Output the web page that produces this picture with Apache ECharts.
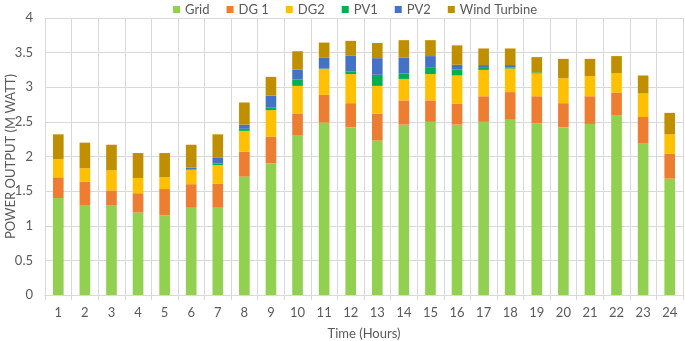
<!DOCTYPE html>
<html>
<head>
<meta charset="utf-8">
<script src="https://cdn.jsdelivr.net/npm/echarts@6/dist/echarts.min.js"></script>
<style>
  html, body { margin: 0; padding: 0; background: #fff; }
  #main { width: 685px; height: 341px; }
</style>
</head>
<body>
<div id="main"></div>
<script>
// hours 1..24
var hours = ['1','2','3','4','5','6','7','8','9','10','11','12','13','14','15','16','17','18','19','20','21','22','23','24'];

// values (M watt)
var grid = [1.40, 1.30, 1.29, 1.19, 1.15, 1.26, 1.27, 1.71, 1.90, 2.30, 2.49, 2.42, 2.23, 2.46, 2.50, 2.46, 2.50, 2.54, 2.48, 2.42, 2.47, 2.60, 2.19, 1.68];
var dg1 = [0.30, 0.335, 0.22, 0.28, 0.38, 0.34, 0.34, 0.36, 0.385, 0.315, 0.40, 0.35, 0.39, 0.35, 0.31, 0.30, 0.37, 0.39, 0.39, 0.35, 0.40, 0.32, 0.38, 0.36];
var dg2 = [0.26, 0.195, 0.29, 0.22, 0.17, 0.21, 0.265, 0.30, 0.385, 0.405, 0.375, 0.42, 0.40, 0.31, 0.38, 0.41, 0.38, 0.34, 0.33, 0.36, 0.29, 0.28, 0.34, 0.28];
var pv1 = [0, 0, 0, 0, 0, 0.01, 0.025, 0.03, 0.04, 0.09, 0.005, 0.04, 0.16, 0.08, 0.10, 0.085, 0.03, 0.015, 0.015, 0, 0, 0, 0, 0];
var pv2 = [0, 0, 0, 0, 0, 0.02, 0.08, 0.06, 0.17, 0.145, 0.155, 0.23, 0.24, 0.23, 0.16, 0.07, 0.04, 0.035, 0, 0, 0, 0, 0, 0];
var wind = [0.36, 0.37, 0.37, 0.36, 0.35, 0.33, 0.34, 0.32, 0.27, 0.265, 0.22, 0.21, 0.22, 0.25, 0.23, 0.28, 0.24, 0.24, 0.22, 0.28, 0.25, 0.25, 0.26, 0.31];

var yTicks = ['0', '0.5', '1', '1.5', '2', '2.5', '3', '3.5', '4'];

var names = ['Grid', 'DG 1', 'DG2', 'PV1', 'PV2', 'Wind Turbine'];
var colors = ['#92D050', '#ED7D31', '#FFC000', '#00B050', '#4472C4', '#BF8F00'];
var allData = [grid, dg1, dg2, pv1, pv2, wind];

var chart = echarts.init(document.getElementById('main'), null, { renderer: 'canvas' });

var series = names.map(function (n, i) {
  return {
    name: n,
    type: 'bar',
    stack: 'total',
    data: allData[i],
    barCategoryGap: '60%',
    itemStyle: { color: colors[i] },
    emphasis: { disabled: true }
  };
});

var txt = { color: '#595959', fontFamily: 'Lato', fontSize: 13 };

chart.setOption({
  animation: false,
  color: colors,
  legend: {
    top: -2,
    left: 168,
    itemWidth: 7,
    itemHeight: 7,
    itemGap: 17,
    icon: 'rect',
    textStyle: txt,
    data: names
  },
  grid: { left: 45, right: 2, top: 18, bottom: 46, outerBoundsMode: 'none' },
  xAxis: {
    type: 'category',
    data: hours,
    name: 'Time (Hours)',
    nameLocation: 'middle',
    nameGap: 32,
    nameMoveOverlap: false,
    nameTextStyle: txt,
    axisLine: { lineStyle: { color: '#d9d9d9' } },
    axisTick: { show: true, length: 5, lineStyle: { color: '#d9d9d9' } },
    axisLabel: Object.assign({ margin: 11 }, txt),
    splitLine: { show: true, lineStyle: { color: '#d9d9d9' } }
  },
  yAxis: {
    type: 'value',
    min: 0,
    max: 4,
    interval: 0.5,
    name: 'POWER OUTPUT (M WATT)',
    nameLocation: 'middle',
    nameGap: 28,
    nameMoveOverlap: false,
    nameTextStyle: txt,
    axisLine: { show: false },
    axisTick: { show: false },
    axisLabel: Object.assign({
      margin: 12,
      formatter: function (v) { return yTicks[Math.round(v / 0.5)]; }
    }, txt),
    splitLine: { lineStyle: { color: '#d9d9d9' } }
  },
  series: series
});
</script>
</body>
</html>
